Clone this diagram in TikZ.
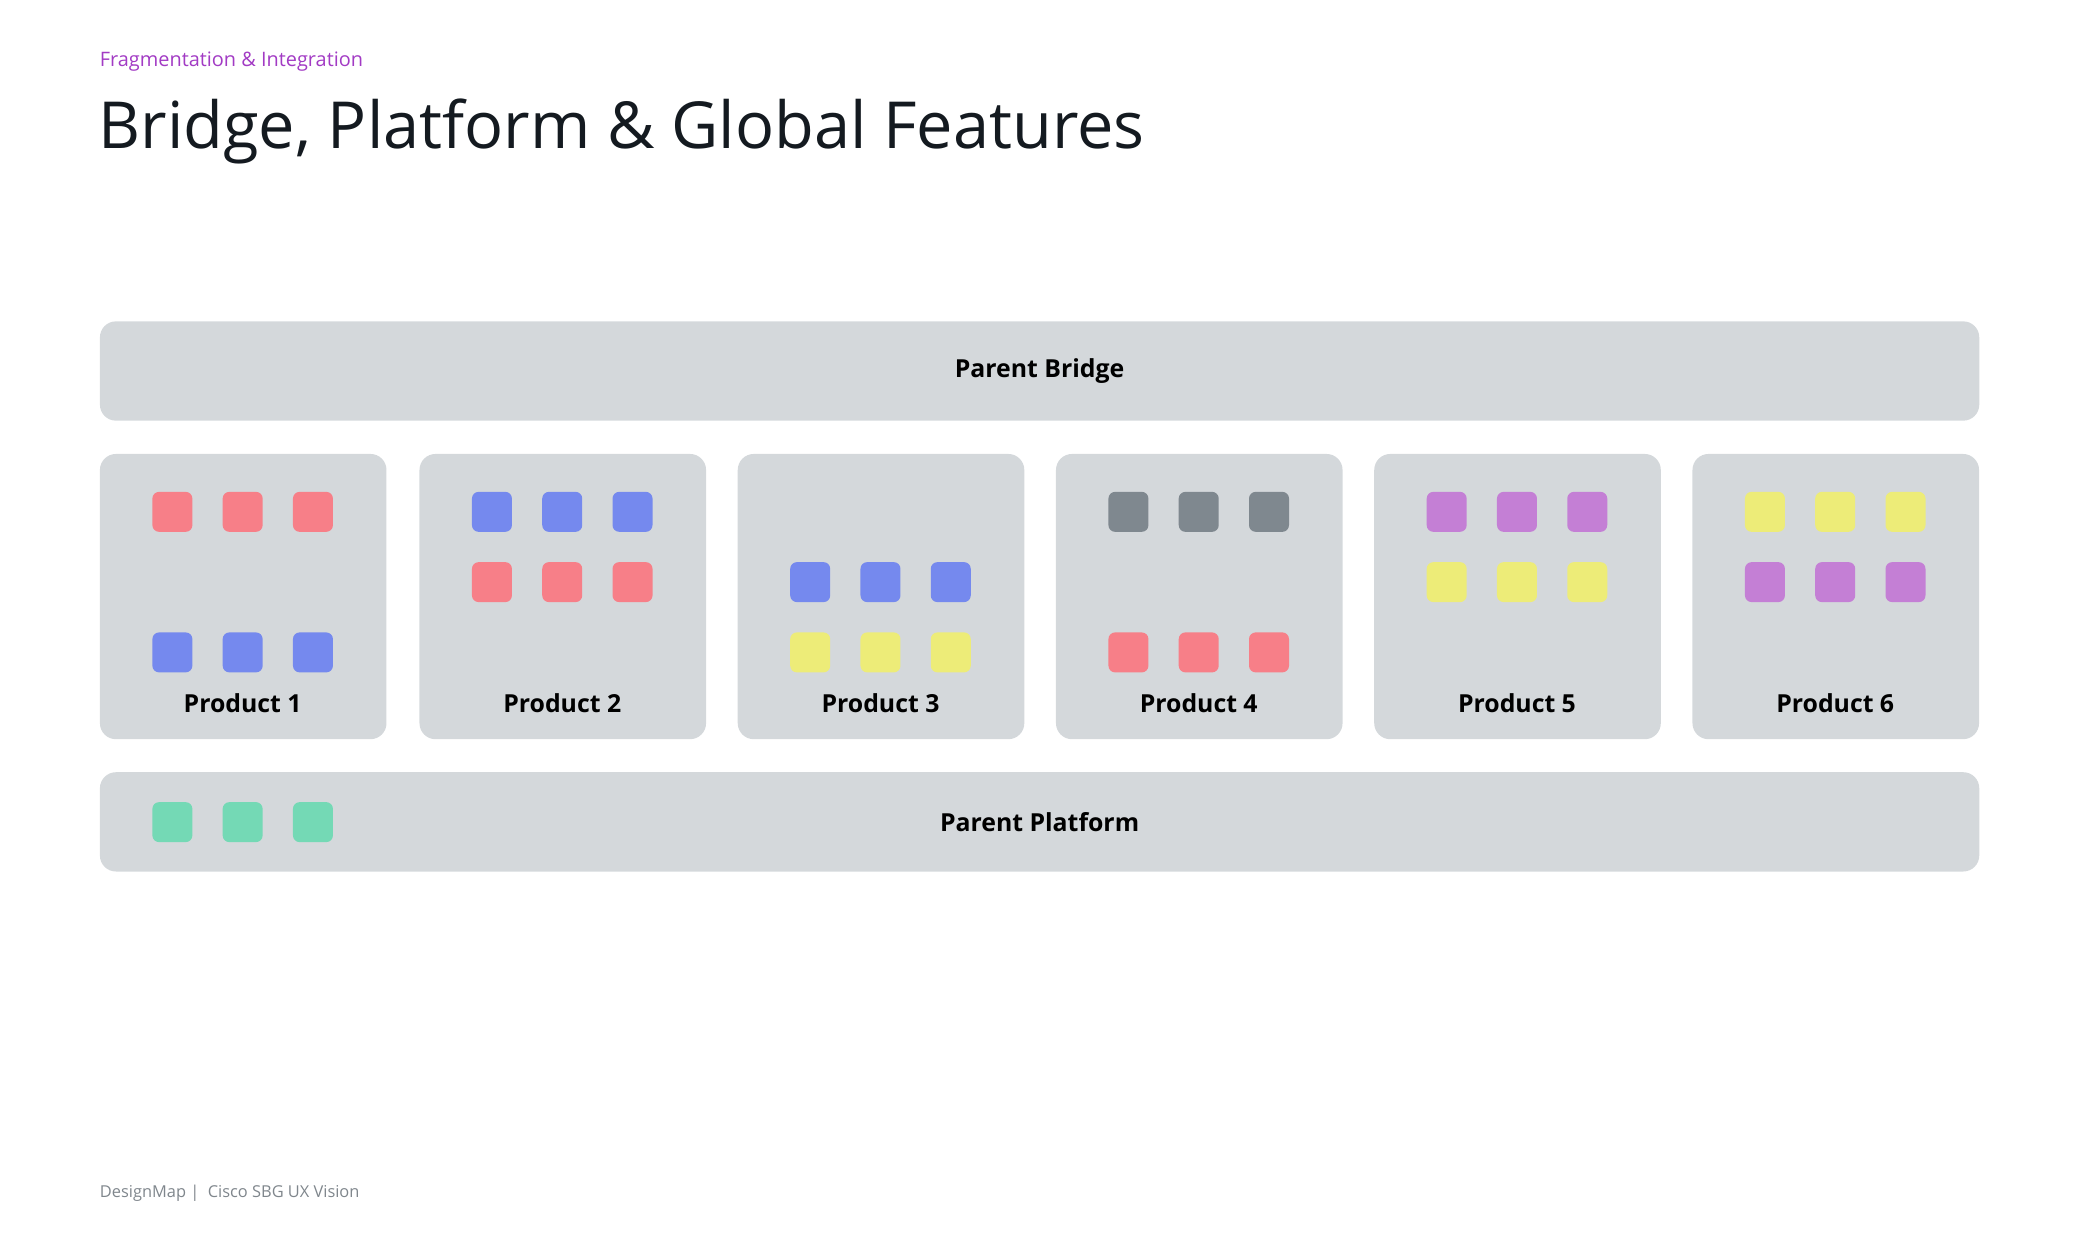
\documentclass[tikz,border=0pt]{standalone}
\usepackage{fontspec}
\setmainfont{Open Sans}
\definecolor{panel}{HTML}{D4D8DB}
\definecolor{fred}{HTML}{F77F88}
\definecolor{fblue}{HTML}{7589EE}
\definecolor{fgray}{HTML}{7F888F}
\definecolor{fpurple}{HTML}{C47FD5}
\definecolor{fyellow}{HTML}{EDEC78}
\definecolor{fgreen}{HTML}{74D9B5}
\definecolor{ink}{HTML}{141A20}
\definecolor{kicker}{HTML}{A23BC4}
\definecolor{foot}{HTML}{7F868C}
\tikzset{
  panel/.style={fill=panel,rounded corners=0.24cm,inner sep=0pt,anchor=north west},
  bar/.style={panel,minimum width=28.2cm,minimum height=1.49cm,font=\fontsize{10.6}{13}\selectfont\bfseries},
  prod/.style={panel,minimum width=4.3cm,minimum height=4.28cm},
  feat/.style={fill=#1,rounded corners=0.1cm,minimum size=0.6cm,inner sep=0pt}
}
\begin{document}
\begin{tikzpicture}[x=0.0199cm,y=-0.0199cm]
    \useasboundingbox (0,0) rectangle (1568.6,935.1);
    \node[anchor=base west,text=kicker,font=\fontsize{8.5}{10}\selectfont,inner sep=0pt] (kick) at (75,50) {Fragmentation \& Integration};
    \node[anchor=base west,text=ink,font=\fontsize{27.7}{32}\selectfont,inner sep=0pt] (title) at (74,112) {Bridge, Platform \& Global Features};
    \node[bar] (bridge) at (75,242) {Parent Bridge};
    \node[bar] (platform) at (75,582) {Parent Platform};
    \foreach \i/\x in {1/75,2/316,3/556,4/796,5/1036,6/1276}{
        \node[prod] (p\i) at (\x,342) {};
        \node[font=\fontsize{10.6}{13}\selectfont\bfseries,anchor=base] (l\i) at (\x+108,537) {Product \i};
    }
    % feature tiles: product / row / colour
    \foreach \i/\x/\r/\c in {1/75/386/fred,1/75/492/fblue,2/316/386/fblue,2/316/439/fred,
        3/556/439/fblue,3/556/492/fyellow,4/796/386/fgray,4/796/492/fred,
        5/1036/386/fpurple,5/1036/439/fyellow,6/1276/386/fyellow,6/1276/439/fpurple}{
        \foreach \k/\dx in {1/55,2/108,3/161}{
            \node[feat=\c] (f\i-\r-\k) at (\x+\dx,\r) {};
        }
    }
    \foreach \k/\x in {1/130,2/183,3/236}{
        \node[feat=fgreen] (g\k) at (\x,620) {};
    }
    \node[anchor=base west,text=foot,font=\fontsize{7}{8}\selectfont,inner sep=0pt] (footer) at (75,903) {DesignMap |\ \ Cisco SBG UX Vision};
\end{tikzpicture}
\end{document}
